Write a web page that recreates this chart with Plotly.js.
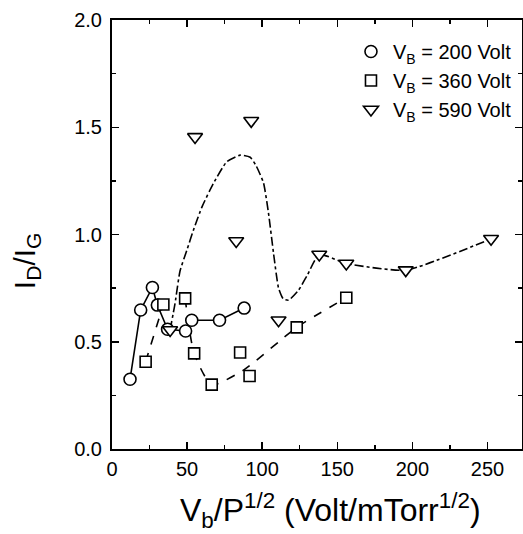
<!DOCTYPE html>
<html><head><meta charset="utf-8">
<script src="https://cdn.plot.ly/plotly-3.0.1.min.js"></script>
<style>html,body{margin:0;padding:0;background:#fff}</style>
</head><body><div id="chart" style="width:523px;height:534px"></div>
<script>
// V_B = 200 Volt (circles)
var x200 = [12, 19.1, 26.9, 30.2, 37, 49, 53.1, 71.6, 88];
var y200 = [0.325, 0.648, 0.753, 0.671, 0.558, 0.55, 0.60, 0.60, 0.657];
// V_B = 360 Volt (squares)
var x360 = [22.4, 34.2, 48.7, 54.7, 66.4, 85.3, 91.6, 123, 156];
var y360 = [0.407, 0.674, 0.702, 0.446, 0.30, 0.45, 0.34, 0.567, 0.705];
// 360 Volt guide line (dashed)
var x360Line = [22.4, 34.2, null, 48.7, 54.7, 66.4, 87.6, 123, 156];
var y360Line = [0.407, 0.674, null, 0.702, 0.446, 0.30, 0.368, 0.567, 0.705];
// V_B = 590 Volt (triangles)
var x590 = [38.7, 55.3, 82.7, 92.7, 110.9, 138, 156, 195.6, 252.4];
var y590 = [0.555, 1.455, 0.97, 1.53, 0.60, 0.907, 0.865, 0.834, 0.98];
// 590 Volt guide curve (dash-dot)
var x590Line = [38.7, 42, 45.3, 50, 54.2, 60, 67.5, 76.4, 85.3, 92, 96, 100.9, 104.2, 107.6, 110.9, 114, 117.6, 124.2, 130, 138, 156, 195.6, 252.4];
var y590Line = [0.555, 0.68, 0.83, 0.93, 1.02, 1.13, 1.238, 1.339, 1.37, 1.36, 1.32, 1.24, 1.10, 0.91, 0.75, 0.70, 0.694, 0.74, 0.81, 0.907, 0.865, 0.834, 0.98];

var legendNames = ['V<sub>B</sub> = 200 Volt', 'V<sub>B</sub> = 360 Volt', 'V<sub>B</sub> = 590 Volt'];
var xTitle = 'V<sub>b</sub>/P<sup>1/2</sup> (Volt/mTorr<sup>1/2</sup>)';
var yTitle = 'I<sub>D</sub>/I<sub>G</sub>';

var mline = {color: '#000', width: 1.6};
var traces = [
  {x: x200, y: y200, mode: 'lines', line: {color: '#000', width: 1.6}, showlegend: false, hoverinfo: 'skip'},
  {x: x360Line, y: y360Line, mode: 'lines', line: {color: '#000', width: 1.6, dash: 'dash', shape: 'spline', smoothing: 0.6}, showlegend: false, connectgaps: false, hoverinfo: 'skip'},
  {x: x590Line, y: y590Line, mode: 'lines', line: {color: '#000', width: 1.6, dash: 'dashdot', shape: 'spline', smoothing: 0.5}, showlegend: false, hoverinfo: 'skip'},
  {x: x200, y: y200, mode: 'markers', name: legendNames[0], marker: {symbol: 'circle', size: 12, color: '#fff', line: mline}},
  {x: x360, y: y360, mode: 'markers', name: legendNames[1], marker: {symbol: 'square', size: 11, color: '#fff', line: mline}},
  {x: x590, y: y590, mode: 'markers', name: legendNames[2], marker: {symbol: 'triangle-down', size: 13, color: '#fff', line: mline}}
];

var fontFam = '"Liberation Sans", Arial, sans-serif';
var layout = {
  width: 523, height: 534,
  margin: {l: 112, r: 1, t: 20, b: 85},
  paper_bgcolor: '#fff', plot_bgcolor: '#fff',
  font: {family: fontFam, color: '#000', size: 20},
  showlegend: true,
  legend: {x: 0.578, y: 0.972, xanchor: 'left', yanchor: 'top', bgcolor: 'rgba(0,0,0,0)', font: {size: 20, family: fontFam, color: '#000'}, tracegroupgap: 0, itemwidth: 34},
  xaxis: {
    range: [0, 273], tickvals: [0, 50, 100, 150, 200, 250], showgrid: false, zeroline: false,
    showline: true, linecolor: '#000', linewidth: 2, mirror: 'ticks',
    ticks: 'inside', ticklen: 7, tickwidth: 1.5, tickcolor: '#000', ticklabelstandoff: 1,
    minor: {tickvals: [25, 75, 125, 175, 225], ticks: 'inside', ticklen: 4, tickwidth: 1.5, tickcolor: '#000', showgrid: false},
    tickfont: {size: 20, color: '#000'}
  },
  yaxis: {
    range: [0, 2], tickvals: [0, 0.5, 1, 1.5, 2], tickformat: '.1f', showgrid: false, zeroline: false,
    showline: true, linecolor: '#000', linewidth: 2, mirror: 'ticks',
    ticks: 'inside', ticklen: 7, tickwidth: 1.5, tickcolor: '#000', ticklabelstandoff: 4,
    minor: {tickvals: [0.25, 0.75, 1.25, 1.75], ticks: 'inside', ticklen: 4, tickwidth: 1.5, tickcolor: '#000', showgrid: false},
    tickfont: {size: 20, color: '#000'}
  },
  annotations: [
    {text: xTitle, xref: 'paper', yref: 'paper', x: 0.534, y: 0, xanchor: 'center', yanchor: 'top', yshift: -37, showarrow: false, font: {size: 32, family: fontFam, color: '#000'}},
    {text: yTitle, xref: 'paper', yref: 'paper', x: -0.21, y: 0.44, xanchor: 'center', yanchor: 'middle', textangle: -90, showarrow: false, font: {size: 30, family: fontFam, color: '#000'}}
  ]
};
Plotly.newPlot('chart', traces, layout, {displayModeBar: false, staticPlot: true});
</script></body></html>
